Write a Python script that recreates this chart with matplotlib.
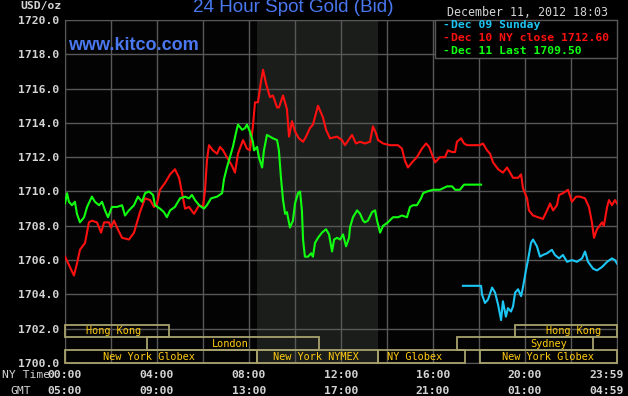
import matplotlib
matplotlib.use("Agg")
import matplotlib.pyplot as plt
from matplotlib.patches import Rectangle

# hours after midnight (NY time) and price
dec10_hours = [0.00, 0.39, 0.52, 0.65, 0.87, 1.04, 1.17, 1.39, 1.57, 1.70, 1.91, 2.00, 2.13, 2.26,
               2.48, 2.78, 3.00, 3.13, 3.26, 3.48, 3.70, 3.87, 4.00, 4.13, 4.35, 4.57, 4.78, 4.96,
               5.09, 5.22, 5.39, 5.61, 5.83, 6.00, 6.09, 6.17, 6.26, 6.43, 6.61, 6.74, 6.87, 7.04,
               7.26, 7.39, 7.52, 7.74, 7.91, 8.04, 8.17, 8.26, 8.39, 8.52, 8.61, 8.74, 8.91, 9.04,
               9.22, 9.30, 9.48, 9.65, 9.74, 9.87, 10.00, 10.17, 10.35, 10.48, 10.65, 10.78, 11.00,
               11.22, 11.35, 11.52, 11.83, 12.04, 12.17, 12.48, 12.65, 12.83, 13.04, 13.26, 13.39,
               13.52, 13.61, 13.83, 14.13, 14.48, 14.65, 14.78, 14.91, 15.09, 15.30, 15.52, 15.70,
               15.83, 16.00, 16.09, 16.30, 16.52, 16.65, 16.83, 16.96, 17.04, 17.22, 17.35, 17.48,
               18.04, 18.17, 18.35, 18.48, 18.61, 18.83, 19.04, 19.22, 19.35, 19.48, 19.70, 19.83,
               19.91, 20.09, 20.17, 20.35, 20.57, 20.78, 20.96, 21.09, 21.22, 21.39, 21.48, 21.65,
               21.87, 22.04, 22.22, 22.39, 22.61, 22.78, 22.91, 23.00, 23.13, 23.35, 23.43, 23.57,
               23.65, 23.78, 23.91, 24.00]
dec10_price = [1706.2, 1705.1, 1705.8, 1706.6, 1707.0, 1708.2, 1708.3, 1708.2, 1707.6, 1708.2,
               1708.2, 1707.9, 1708.3, 1707.9, 1707.3, 1707.2, 1707.6, 1708.2, 1708.8, 1709.6,
               1709.5, 1709.1, 1709.3, 1710.1, 1710.5, 1711.0, 1711.3, 1710.8, 1709.9, 1709.0,
               1709.1, 1708.7, 1709.2, 1709.1, 1710.1, 1711.8, 1712.7, 1712.4, 1712.2, 1712.6,
               1712.4, 1712.0, 1711.5, 1711.1, 1712.2, 1713.0, 1712.5, 1712.4, 1713.8, 1715.2,
               1715.2, 1716.4, 1717.1, 1716.3, 1715.5, 1715.6, 1714.9, 1714.9, 1715.6, 1714.8,
               1713.2, 1714.1, 1713.5, 1713.1, 1712.9, 1713.2, 1713.7, 1713.9, 1715.0, 1714.3,
               1713.6, 1713.1, 1713.2, 1713.0, 1712.7, 1713.3, 1712.8, 1712.9, 1712.8, 1712.9,
               1713.8, 1713.4, 1713.0, 1712.8, 1712.7, 1712.7, 1712.5, 1711.8, 1711.4, 1711.7,
               1712.0, 1712.5, 1712.8, 1712.6, 1712.0, 1711.7, 1712.0, 1712.0, 1712.4, 1712.3,
               1712.3, 1712.9, 1713.1, 1712.8, 1712.7, 1712.7, 1712.8, 1712.4, 1712.2, 1711.7,
               1711.3, 1711.1, 1711.4, 1711.1, 1710.8, 1710.8, 1711.0, 1710.2, 1709.6, 1708.9,
               1708.6, 1708.5, 1708.4, 1708.9, 1709.3, 1708.9, 1709.2, 1709.8, 1709.9, 1710.1,
               1709.4, 1709.7, 1709.7, 1709.6, 1709.1, 1708.2, 1707.3, 1707.8, 1708.2, 1708.0,
               1709.1, 1709.5, 1709.2, 1709.5, 1709.3]

dec11_hours = [0.00, 0.09, 0.17, 0.30, 0.43, 0.52, 0.65, 0.83, 0.96, 1.17, 1.30, 1.48, 1.61, 1.74,
               1.87, 2.04, 2.26, 2.48, 2.61, 2.78, 3.00, 3.17, 3.35, 3.48, 3.65, 3.83, 3.91, 4.13,
               4.30, 4.43, 4.57, 4.78, 5.00, 5.22, 5.39, 5.52, 5.65, 5.83, 6.04, 6.17, 6.35, 6.61,
               6.83, 6.91, 7.04, 7.17, 7.30, 7.43, 7.52, 7.70, 7.83, 7.91, 8.04, 8.17, 8.22, 8.35,
               8.43, 8.57, 8.65, 8.78, 8.91, 9.04, 9.22, 9.30, 9.39, 9.48, 9.57, 9.65, 9.78, 9.91,
               10.00, 10.13, 10.22, 10.30, 10.35, 10.43, 10.57, 10.70, 10.78, 10.87, 11.00, 11.17,
               11.35, 11.48, 11.61, 11.70, 11.83, 11.96, 12.09, 12.22, 12.35, 12.39, 12.52, 12.70,
               12.83, 12.96, 13.04, 13.17, 13.35, 13.48, 13.57, 13.70, 13.83, 14.04, 14.26, 14.48,
               14.65, 14.87, 15.00, 15.13, 15.30, 15.48, 15.57, 15.74, 16.00, 16.30, 16.61, 16.83,
               16.96, 17.17, 17.35, 17.48, 18.09]
dec11_price = [1709.3, 1709.9, 1709.4, 1709.2, 1709.4, 1708.7, 1708.2, 1708.5, 1709.1, 1709.7,
               1709.4, 1709.2, 1709.4, 1708.9, 1708.5, 1709.1, 1709.1, 1709.2, 1708.6, 1708.9,
               1709.2, 1709.7, 1709.4, 1709.9, 1710.0, 1709.8, 1709.2, 1709.0, 1708.8, 1708.5,
               1708.9, 1709.1, 1709.6, 1709.7, 1709.6, 1709.8, 1709.5, 1709.2, 1709.0, 1709.2,
               1709.6, 1709.7, 1709.9, 1710.7, 1711.4, 1712.0, 1712.6, 1713.4, 1713.9, 1713.6,
               1713.7, 1713.9, 1713.5, 1712.9, 1712.4, 1712.6, 1712.0, 1711.4, 1712.4, 1713.3,
               1713.2, 1713.1, 1713.0, 1712.4, 1710.8, 1709.5, 1708.7, 1708.8, 1707.9, 1708.3,
               1709.3, 1709.9, 1710.0, 1708.9, 1707.2, 1706.2, 1706.2, 1706.4, 1706.2, 1707.0,
               1707.3, 1707.6, 1707.8, 1707.5, 1706.5, 1707.2, 1707.3, 1707.2, 1707.5, 1706.8,
               1707.3, 1707.9, 1708.5, 1708.9, 1708.7, 1708.3, 1708.2, 1708.3, 1708.8, 1708.9,
               1708.3, 1707.6, 1708.0, 1708.2, 1708.5, 1708.5, 1708.6, 1708.5, 1709.1, 1709.2,
               1709.2, 1709.6, 1709.9, 1710.0, 1710.1, 1710.1, 1710.3, 1710.3, 1710.1, 1710.1,
               1710.4, 1710.4, 1710.4]

dec09_hours = [17.30, 18.09, 18.13, 18.26, 18.39, 18.57, 18.70, 18.83, 18.96, 19.04, 19.17, 19.26,
               19.39, 19.48, 19.57, 19.70, 19.83, 19.91, 20.04, 20.13, 20.26, 20.35, 20.52, 20.65,
               20.78, 20.96, 21.17, 21.30, 21.48, 21.65, 21.83, 22.04, 22.26, 22.48, 22.61, 22.74,
               22.96, 23.13, 23.35, 23.57, 23.78, 23.91, 24.00]
dec09_price = [1704.5, 1704.5, 1704.0, 1703.5, 1703.7, 1704.4, 1704.1, 1703.4, 1702.5, 1703.6,
               1702.7, 1703.2, 1703.0, 1703.3, 1704.1, 1704.3, 1703.9, 1704.4, 1705.4, 1706.0,
               1707.0, 1707.2, 1706.8, 1706.2, 1706.3, 1706.4, 1706.6, 1706.3, 1706.1, 1706.3,
               1705.9, 1706.0, 1705.9, 1706.1, 1706.5, 1705.9, 1705.5, 1705.4, 1705.6, 1705.9,
               1706.1, 1706.0, 1705.8]

legend_labels = ["Dec 09 Sunday", "Dec 10 NY close 1712.60", "Dec 11 Last 1709.50"]

ny_labels = ["00:00", "04:00", "08:00", "12:00", "16:00", "20:00", "23:59"]
gmt_labels = ["05:00", "09:00", "13:00", "17:00", "21:00", "01:00", "04:59"]
time_ticks = [0, 4, 8, 12, 16, 20, 24]

# market sessions: name, start hour, end hour, row (0 = top), label position
sessions = [
    ("Hong Kong", 0.0, 4.5, 0, 2.13),
    ("London", 3.55, 11.05, 1, 7.17),
    ("New York Globex", 0.0, 8.35, 2, 3.65),
    ("New York NYMEX", 8.35, 13.6, 2, 10.9),
    ("NY Globex", 13.6, 17.4, 2, 15.2),
    ("New York Globex", 18.05, 24.0, 2, 21.0),
    ("Sydney", 17.05, 22.95, 1, 21.04),
    ("Hong Kong", 19.55, 24.0, 0, 22.1),
]
nymex_open, nymex_close = 8.35, 13.6

CYAN, RED, GREEN = "#1cc6f5", "#ff1010", "#10ff10"
GRID = "#585858"
LIGHT = "#d4d4d4"
BLUE = "#4a78f0"
MONO = "DejaVu Sans Mono"

W, H = 628, 396
fig = plt.figure(figsize=(W / 100, H / 100), dpi=100, facecolor="black")
ax = fig.add_axes([65 / W, 1 - 363 / H, 552 / W, 343 / H], facecolor="#030303")

def px(x, y):
    return x / W, 1 - y / H

ax.set_xlim(0, 24)
ax.set_ylim(1700, 1720)
ax.set_xticks(range(0, 25, 2))
ax.set_xticklabels([])
ax.set_yticks(range(1700, 1721, 2))
ax.set_yticklabels([f"{v:.1f}" for v in range(1700, 1721, 2)],
                   fontfamily=MONO, fontweight="bold", fontsize=8.2, color=LIGHT)
ax.tick_params(length=0, pad=4)
ax.grid(True, color=GRID, lw=1)
for s in ax.spines.values():
    s.set_color(GRID)

ax.axvspan(nymex_open, nymex_close, color="#1b1d1b", zorder=0.5, lw=0)

ax.plot(dec10_hours, dec10_price, color=RED, lw=1.5, zorder=3)
ax.plot(dec11_hours, dec11_price, color=GREEN, lw=1.5, zorder=3)
ax.plot(dec09_hours, dec09_price, color=CYAN, lw=1.5, zorder=3)

# session boxes along the bottom
trans = ax.get_xaxis_transform()
row_h = 0.0373
for name, start, end, row, lx in sessions:
    y0 = (2 - row) * row_h
    ax.add_patch(Rectangle((start, y0), end - start, row_h, transform=trans,
                           fill=False, edgecolor="#a8a26c", lw=1.3, zorder=4, clip_on=False))
    ax.text(lx, y0 + row_h / 2, name, transform=trans, ha="center", va="center",
            fontfamily=MONO, fontsize=7.4, color="#ffcc10", zorder=5)

# legend box
ax.add_patch(Rectangle((0.670, 0.889), 0.33, 0.111, transform=ax.transAxes,
                       facecolor="black", edgecolor=GRID, lw=1, zorder=6, clip_on=False))
for i, (lab, col) in enumerate(zip(legend_labels, [CYAN, RED, GREEN])):
    fig.text(*px(442, 25 + 13 * i), "-", color=col, fontfamily=MONO, fontweight="bold",
             fontsize=8.2, va="center", zorder=7)
    fig.text(*px(451, 25 + 13 * i), lab, color=col, fontfamily=MONO, fontweight="bold",
             fontsize=8.2, va="center", zorder=7)

# time axis rows
for t, ny, gmt in zip(time_ticks, ny_labels, gmt_labels):
    ha = "center"
    xx = t
    if t == 24:
        ha, xx = "right", 24.3
    ax.text(xx, -0.035, ny, transform=trans, ha=ha, va="center", fontfamily=MONO,
            fontweight="bold", fontsize=8.2, color=LIGHT, clip_on=False)
    ax.text(xx, -0.082, gmt, transform=trans, ha=ha, va="center", fontfamily=MONO,
            fontweight="bold", fontsize=8.2, color=LIGHT, clip_on=False)

fig.text(*px(2, 375), "NY Time", fontfamily=MONO, fontsize=8.2, color=LIGHT, va="center")
fig.text(*px(10, 391), "GMT", fontfamily=MONO, fontsize=8.2, color=LIGHT, va="center")
fig.text(*px(20, 6), "USD/oz", fontfamily=MONO, fontweight="bold", fontsize=8.2,
         color=LIGHT, va="center")
fig.text(*px(293, 8), "24 Hour Spot Gold (Bid)", fontfamily="Liberation Sans", fontsize=13.6,
         color=BLUE, ha="center", va="center")
fig.text(*px(68, 46), "www.kitco.com", fontfamily="Liberation Sans", fontweight="bold",
         fontsize=13, color=BLUE, va="center")
fig.text(*px(447, 12), "December 11, 2012 18:03", fontfamily=MONO, fontsize=8.4,
         color=LIGHT, va="center")

fig.savefig("out.png", dpi=100, facecolor="black")
